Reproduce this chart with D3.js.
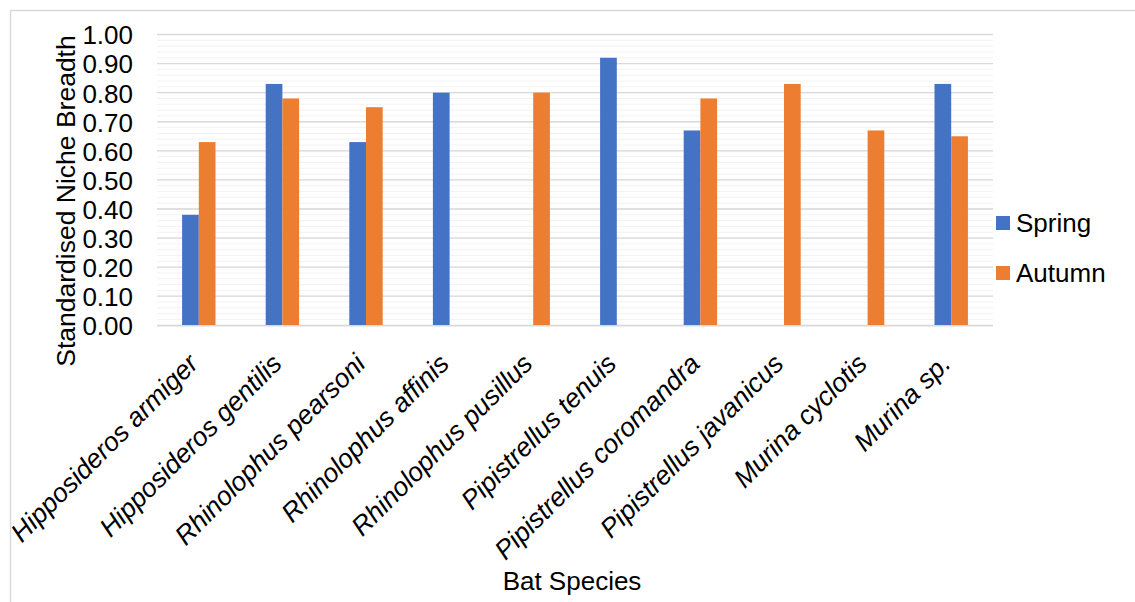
<!DOCTYPE html>
<html><head><meta charset="utf-8">
<script src="https://cdn.jsdelivr.net/npm/d3@7"></script>
<style>
body{margin:0;background:#fff;}
text{font-family:"Liberation Sans",Arial,sans-serif;fill:#000;}
</style></head>
<body>
<svg id="c" width="1135" height="602"></svg>
<script>
const categories = ["Hipposideros armiger","Hipposideros gentilis","Rhinolophus pearsoni","Rhinolophus affinis","Rhinolophus pusillus","Pipistrellus tenuis","Pipistrellus coromandra","Pipistrellus javanicus","Murina cyclotis","Murina sp."];
const seriesNames = ["Spring","Autumn"];
const spring = [0.38,0.83,0.63,0.80,null,0.92,0.67,null,null,0.83];
const autumn = [0.63,0.78,0.75,null,0.80,null,0.78,0.83,0.67,0.65];
const yTicks = [0,0.1,0.2,0.3,0.4,0.5,0.6,0.7,0.8,0.9,1.0];
const minorTicks = d3.range(0,1.0001,0.02);
const colors = ["#4472C4","#ED7D31"];

const FS = 26;
const svg = d3.select("#c");
svg.append("rect").attr("x",10.5).attr("y",10.5).attr("width",1140).attr("height",600)
  .attr("fill","#fff").attr("stroke","#d9d9d9").attr("stroke-width",1.5);

const pL=157, pR=993, pT=34.5, pB=325.3;
const x = d3.scaleBand().domain(categories).range([pL,pR]);
const y = d3.scaleLinear().domain([0,1]).range([pB,pT]);
const bw = 16.7;

const g = svg.append("g");
g.selectAll("line.minor").data(minorTicks).join("line").attr("class","minor")
  .attr("x1",pL).attr("x2",pR).attr("y1",d=>y(d)).attr("y2",d=>y(d))
  .attr("stroke","#f2f2f2").attr("stroke-width",1);
g.selectAll("line.major").data(yTicks).join("line").attr("class","major")
  .attr("x1",pL).attr("x2",pR).attr("y1",d=>y(d)).attr("y2",d=>y(d))
  .attr("stroke","#d9d9d9").attr("stroke-width",1.3);

const yAxis = d3.axisLeft(y).tickValues(yTicks).tickFormat(d3.format(".2f")).tickSize(0).tickPadding(24);
const ya = svg.append("g").attr("transform",`translate(${pL},0)`).call(yAxis);
ya.select(".domain").remove();
ya.selectAll("text").attr("font-size",FS).attr("dy","0.36em").attr("fill","#000")
  .style("font-family","'Liberation Sans',Arial,sans-serif");

const data = categories.map((c,i)=>({c, vals:[spring[i],autumn[i]]}));
const bars = svg.append("g");
data.forEach(d=>{
  d.vals.forEach((v,s)=>{
    if(v==null) return;
    const cx = x(d.c)+x.bandwidth()/2;
    bars.append("rect")
      .attr("x", cx + (s===0? -bw:0)).attr("width",bw)
      .attr("y",y(v)).attr("height",y(0)-y(v))
      .attr("fill",colors[s]);
  });
});
svg.append("line").attr("x1",pL).attr("x2",pR).attr("y1",y(0)+0.5).attr("y2",y(0)+0.5)
  .attr("stroke","#d9d9d9").attr("stroke-width",1.5);

const xAxis = d3.axisBottom(x).tickSize(0).tickPadding(0);
const xa = svg.append("g").attr("transform",`translate(0,${pB})`).call(xAxis);
xa.select(".domain").remove();
xa.selectAll("text")
  .attr("font-size",26.5).attr("font-style","italic").attr("fill","#000")
  .style("font-family","'Liberation Sans',Arial,sans-serif")
  .attr("text-anchor","end").attr("y",0).attr("dy",0)
  .attr("transform","translate(1,40) rotate(-45)");

svg.append("text").attr("x",572).attr("y",590).attr("text-anchor","middle").attr("font-size",FS).text("Bat Species");
svg.append("text").attr("transform","translate(75,201) rotate(-90)").attr("text-anchor","middle").attr("font-size",26.5).text("Standardised Niche Breadth");

const leg = svg.append("g");
seriesNames.forEach((n,i)=>{
  const ly = 223 + i*50;
  leg.append("rect").attr("x",996).attr("y",ly-7).attr("width",14).attr("height",14).attr("fill",colors[i]);
  leg.append("text").attr("x",1016).attr("y",ly+9).attr("font-size",FS).text(n);
});
</script>
</body></html>
